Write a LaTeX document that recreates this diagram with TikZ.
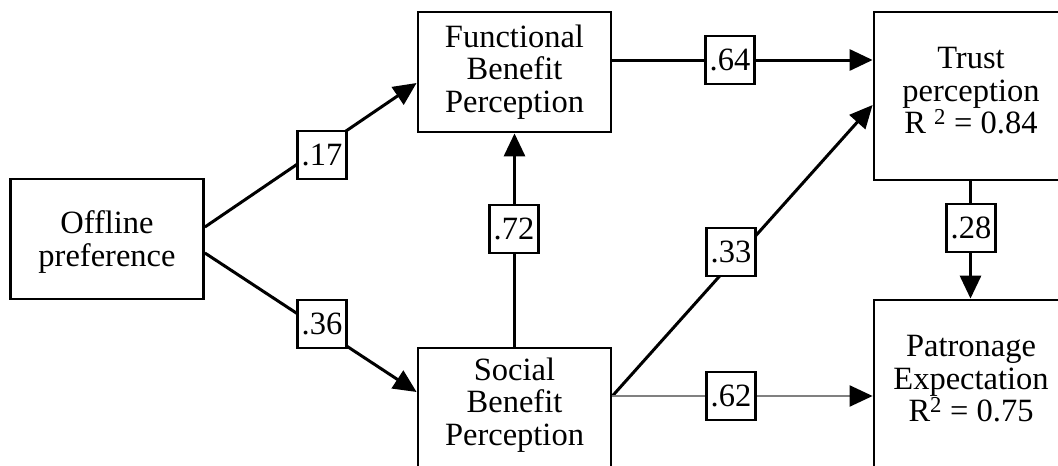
\documentclass[tikz,border=0pt]{standalone}
\usepackage{fontspec}
\setmainfont{Liberation Serif}
\usetikzlibrary{arrows.meta}
\begin{document}
\begin{tikzpicture}[x=1pt,y=-1pt,
  txt/.style={font=\fontsize{32.5}{32.5}\selectfont},
  label/.style={txt,align=center,inner sep=0pt},
  box/.style={draw,line width=2.8pt,minimum width=193pt,minimum height=120pt,inner sep=0pt},
  tallbox/.style={box,minimum height=168pt},
  coef/.style={draw,fill=white,line width=2.5pt,minimum width=49pt,minimum height=48pt,inner sep=0pt,txt},
  conn/.style={line width=3pt,-{Triangle[length=23pt,width=21pt]}},
  grayconn/.style={line width=2.2pt,draw=black!50,-{Triangle[length=23pt,width=21pt,color=black]}},
]
\useasboundingbox (0,0) rectangle (1058,466);
\clip (0,0) rectangle (1058,466);
\fill[white] (0,0) rectangle (1058,466);
% boxes
\node[box] (off) at (107,239) {};
\node[box] (func) at (514.5,72) {};
\node[box] (soc) at (514.5,408) {};
\node[tallbox] (trust) at (970.5,96) {};
\node[tallbox] (pat) at (970.5,384) {};
% box texts
\node[label] (offT) at (107,242) {Offline\\preference};
\node[label] (funcT) at (514.5,72) {Functional\\Benefit\\Perception};
\node[label] (socT) at (514.5,405) {Social\\Benefit\\Perception};
\node[label] (trustT) at (971,91) {Trust\\perception\\R \textsuperscript{2} = 0.84};
\node[label] (patT) at (971,379) {Patronage\\Expectation\\R\textsuperscript{2} = 0.75};
% connectors
\draw[conn] ([yshift=12pt]off.east) -- ([yshift=-11pt]func.west);
\draw[conn] ([yshift=-14pt]off.east) -- ([yshift=16pt]soc.west);
\draw[conn] (soc.north) -- (func.south);
\draw[conn] ([yshift=12pt]func.east) -- ([yshift=36pt]trust.west);
\draw[conn] ([yshift=12pt]soc.east) -- ([yshift=-9pt]trust.west);
\draw[grayconn] ([yshift=12pt]soc.east) -- ([yshift=-12pt]pat.west);
\draw[conn] (trust.south) -- (pat.north);
% coefficients
\node[coef] (c17) at (322,155) {.17};
\node[coef] (c36) at (322,324) {.36};
\node[coef] (c72) at (514,229) {.72};
\node[coef] (c64) at (730,60) {.64};
\node[coef] (c33) at (731,252) {.33};
\node[coef] (c62) at (731,396) {.62};
\node[coef] (c28) at (971,228) {.28};
\end{tikzpicture}
\end{document}
